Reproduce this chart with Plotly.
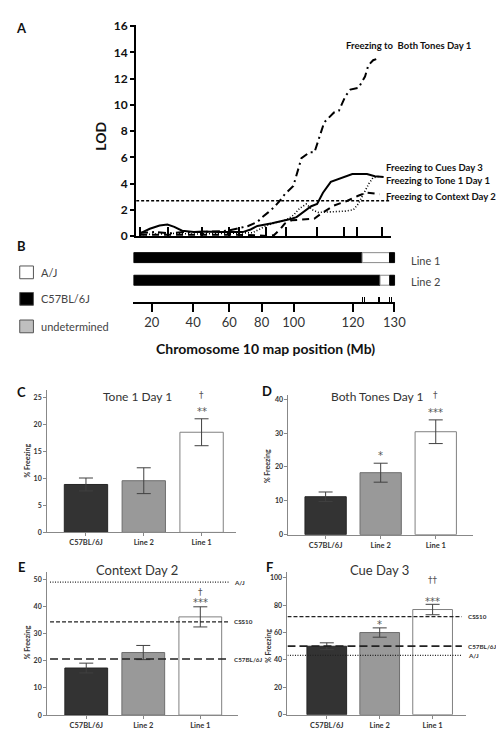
import plotly.graph_objects as go

W, H = 504, 737
FONT = "Lato"
SYMFONT = "DejaVu Sans"

def fx(p):
    return p / W

def fy(p):
    return 1 - p / H

# ---------------- Panel A : LOD profiles (map position units, LOD) ----------------
cues_pos = [6, 16, 26, 34, 41, 49, 61, 71, 86, 101, 111, 119, 126, 141, 153, 161, 166, 174, 181, 187, 193, 201, 209, 216, 223, 238, 246, 255]
cues_lod = [0.2, 0.55, 0.8, 0.87, 0.7, 0.4, 0.3, 0.35, 0.3, 0.3, 0.3, 0.5, 0.77, 0.97, 1.15, 1.32, 1.44, 1.9, 2.27, 2.44, 3.3, 4.13, 4.35, 4.56, 4.73, 4.73, 4.55, 4.5]

both_pos = [6, 21, 36, 51, 66, 81, 96, 106, 116, 126, 131, 137, 143, 149, 154, 162.7, 171, 179.3, 184.3, 194.3, 204.3, 209.3, 216, 221, 229.3, 236, 239.3, 244.3, 249.3]
both_lod = [0.25, 0.3, 0.2, 0.3, 0.3, 0.35, 0.4, 0.58, 0.75, 1.07, 1.44, 1.8, 2.19, 2.7, 3.19, 3.81, 5.93, 6.38, 6.38, 8.67, 9.42, 9.55, 10.67, 11.16, 11.29, 12.16, 13.0, 13.4, 13.53]

tone1_pos = [6, 21, 41, 61, 81, 101, 121, 129, 136, 146, 156, 163, 169, 176, 182, 188, 196, 204, 216, 224, 229, 233, 236, 240, 244, 251]
tone1_lod = [0.1, 0.15, 0.2, 0.15, 0.2, 0.2, 0.25, 0.55, 0.82, 1.05, 1.25, 1.6, 2.1, 2.44, 2.0, 1.8, 1.8, 1.85, 1.9, 2.0, 2.44, 3.0, 3.44, 4.0, 4.43, 4.56]

context_pos = [6, 31, 56, 81, 106, 126, 136, 143, 149, 154, 161, 171, 184, 191, 204, 218, 229, 238, 246, 251]
context_lod = [0.1, 0.1, 0.15, 0.1, 0.1, 0.05, 0.0, 0.07, 0.5, 0.95, 1.2, 1.25, 1.32, 1.7, 2.32, 2.69, 3.07, 3.31, 3.25, 3.19]

lod_threshold = 2.69
threshold_span = [2, 261]
marker_pos = [6, 35, 69, 97, 107, 135, 155, 187, 214, 228, 253]

# ---------------- Panel B : congenic segments ----------------
b_tick_pos = [18.7, 61, 98, 131, 163.7, 224.3, 266.7]
b_tick_text = ["20", "40", "60", "80", "100", "120", "130"]
b_marker_pos = [233.7, 236, 250, 252, 261.7, 263.7]
seg_line = [0, 0, 0, 1, 1, 1]
seg_start = [0, 233.7, 261.7, 0, 252, 262]
seg_end = [233.7, 261.7, 267, 252, 262, 267]
seg_strain = ["C57BL/6J", "A/J", "C57BL/6J", "C57BL/6J", "A/J", "C57BL/6J"]
line_names = ["Line 1", "Line 2"]

# ---------------- Panels C-F : % freezing ----------------
groups = ["C57BL/6J", "Line 2", "Line 1"]
tone1_mean = [8.9, 9.6, 18.6]
tone1_sem = [1.2, 2.4, 2.5]
both_mean = [11.2, 18.3, 30.4]
both_sem = [1.4, 2.8, 3.5]
context_mean = [17.3, 23.0, 36.1]
context_sem = [1.8, 2.6, 3.7]
cue_mean = [50.0, 60.0, 76.8]
cue_sem = [2.5, 3.4, 3.8]

tone1_stars = ["", "", "**"]
tone1_dagger = ["", "", "†"]
both_stars = ["", "*", "***"]
both_dagger = ["", "", "†"]
context_stars = ["", "", "***"]
context_dagger = ["", "", "†"]
cue_stars = ["", "*", "***"]
cue_dagger = ["", "", "††"]

ref_names = ["A/J", "CSS10", "C57BL/6J"]
context_ref = [48.9, 34.3, 20.6]
cue_ref = [43.4, 71.6, 50.1]

bar_fill = ["#333333", "#999999", "#ffffff"]
bar_edge = ["#262626", "#6e6e6e", "#808080"]
strain_fill = {"C57BL/6J": "#000000", "A/J": "#ffffff"}
strain_edge = {"C57BL/6J": "#000000", "A/J": "#8a8a8a"}

fig = go.Figure()
annotations = []
shapes = []

def ann(text, x, y, size, bold=False, xanchor="center", yanchor="middle",
        color="#222222", angle=0, xref="paper", yref="paper", family=FONT):
    if xref == "paper":
        x = fx(x)
    if yref == "paper":
        y = fy(y)
    annotations.append(dict(
        text=text, x=x, y=y, xref=xref, yref=yref, showarrow=False,
        xanchor=xanchor, yanchor=yanchor, textangle=angle,
        font=dict(family=family, size=size, color=color,
                  weight="bold" if bold else "normal")))

# ---- Panel A traces
def lod_trace(xs, ys, dash, width):
    fig.add_trace(go.Scatter(x=xs, y=ys, mode="lines", xaxis="x", yaxis="y",
                             line=dict(color="black", width=width, dash=dash),
                             showlegend=False, hoverinfo="skip"))

fig.add_trace(go.Scatter(x=threshold_span, y=[lod_threshold, lod_threshold], mode="lines",
                         xaxis="x", yaxis="y", line=dict(color="black", width=1.3, dash="3px,2px"),
                         showlegend=False, hoverinfo="skip"))
lod_trace(context_pos, context_lod, "7px,5px", 2)
lod_trace(tone1_pos, tone1_lod, "1px,2px", 1.6)
lod_trace(both_pos, both_lod, "8px,4px,2px,4px", 2)
lod_trace(cues_pos, cues_lod, "solid", 2)

# ---- Panel B traces
fig.add_trace(go.Bar(
    y=seg_line, x=[e - s for s, e in zip(seg_start, seg_end)], base=seg_start,
    orientation="h", xaxis="x2", yaxis="y2", width=0.44,
    marker=dict(color=[strain_fill[s] for s in seg_strain],
                line=dict(color=[strain_edge[s] for s in seg_strain], width=1)),
    showlegend=False, hoverinfo="skip"))
fig.add_trace(go.Scatter(x=[0], y=[0], xaxis="x3", yaxis="y2", mode="markers",
                         marker=dict(opacity=0), showlegend=False, hoverinfo="skip"))

# ---- Panels C-F
panels = [
    dict(ax="4", mean=tone1_mean, sem=tone1_sem, stars=tone1_stars, dag=tone1_dagger,
         xd=(40, 233), xr=(-0.672, 2.594), yd=(527.7, 383), yr=(0, 26.4), dt=5,
         title="Tone 1 Day 1", tx=132, ty=389, tsize=12, letter="C", lx=14, ly=385,
         ylab=(19, 455), so=(7, 24), pu=5.48, refs=None),
    dict(ax="5", mean=both_mean, sem=both_sem, stars=both_stars, dag=both_dagger,
         xd=(286.7, 475), xr=(-0.675, 2.67), yd=(530, 388), yr=(0, 41.2), dt=10,
         title="Both Tones Day 1", tx=378, ty=389, tsize=12, letter="D", lx=265, ly=384,
         ylab=(265, 460), so=(8, 25), pu=3.45, refs=None),
    dict(ax="6", mean=context_mean, sem=context_sem, stars=context_stars, dag=context_dagger,
         xd=(40, 235), xr=(-0.686, 2.659), yd=(713.7, 568), yr=(0, 52.6), dt=10,
         title="Context Day 2", tx=132, ty=566, tsize=13, letter="E", lx=14, ly=563,
         ylab=(19, 640), so=(4, 15), pu=2.77, refs=context_ref, rx=(-0.635, 2.516), lpx=229.5),
    dict(ax="7", mean=cue_mean, sem=cue_sem, stars=cue_stars, dag=cue_dagger,
         xd=(285.7, 468), xr=(-0.743, 2.627), yd=(713.3, 568.3), yr=(0, 104), dt=20,
         title="Cue Day 3", tx=380, ty=566, tsize=13, letter="F", lx=267, ly=563,
         ylab=(265, 643), so=(3, 25), pu=1.395, refs=cue_ref, rx=(-0.743, 2.553), lpx=468.5),
]

ref_dash = {"A/J": "1px,1.5px", "CSS10": "4px,2px", "C57BL/6J": "8px,4px"}
ref_width = {"A/J": 1.3, "CSS10": 1.2, "C57BL/6J": 1.6}

layout_axes = {}
for p in panels:
    a = p["ax"]
    xs = list(range(len(groups)))
    fig.add_trace(go.Bar(
        x=xs, y=p["mean"], xaxis="x" + a, yaxis="y" + a, width=0.75,
        marker=dict(color=bar_fill, line=dict(color=bar_edge, width=1)),
        error_y=dict(type="data", array=p["sem"], visible=True, color="#404040",
                     thickness=1, width=7),
        showlegend=False, hoverinfo="skip"))
    y0px, y1px = p["yd"]
    r0, r1 = p["yr"]
    if p["refs"] is not None:
        for name, val in zip(ref_names, p["refs"]):
            fig.add_trace(go.Scatter(
                x=list(p["rx"]), y=[val, val], mode="lines", xaxis="x" + a, yaxis="y" + a,
                line=dict(color="#222222", width=ref_width[name], dash=ref_dash[name]),
                showlegend=False, hoverinfo="skip"))
            ypx = y0px - (val - r0) / (r1 - r0) * (y0px - y1px)
            ann(name, p["lpx"], ypx, 6.3, bold=True, xanchor="left", color="#333333")
    for i in xs:
        top = p["mean"][i] + p["sem"][i]
        if p["stars"][i]:
            ann(p["stars"][i], i, top + p["so"][0] / p["pu"], 10, xref="x" + a, yref="y" + a,
                color="#555555", yanchor="middle", family=SYMFONT)
        if p["dag"][i]:
            ann(p["dag"][i], i, top + p["so"][1] / p["pu"], 9, xref="x" + a, yref="y" + a,
                color="#555555", family=SYMFONT)
    layout_axes["xaxis" + a] = dict(
        domain=[fx(p["xd"][0]), fx(p["xd"][1])], range=list(p["xr"]), anchor="y" + a,
        tickvals=xs, ticktext=groups, ticks="outside", ticklen=3, tickcolor="#888888",
        showline=True, linecolor="#888888", linewidth=1, showgrid=False, zeroline=False,
        tickfont=dict(family=FONT, size=7.5, color="#333333", weight="bold"))
    layout_axes["yaxis" + a] = dict(
        domain=[fy(p["yd"][0]), fy(p["yd"][1])], range=list(p["yr"]), anchor="x" + a,
        dtick=p["dt"], tick0=0, ticks="outside", ticklen=3, tickcolor="#888888",
        showline=True, linecolor="#888888", linewidth=1, showgrid=False, zeroline=False,
        tickfont=dict(family=FONT, size=7, color="#333333", weight="bold"))
    ann(p["title"], p["tx"], p["ty"], p["tsize"], color="#333333")
    ann(p["letter"], p["lx"], p["ly"], 13, bold=True, color="#111111")
    ann("% Freezing", p["ylab"][0], p["ylab"][1], 7, bold=True, angle=-90, color="#333333")

# ---- Panel A / B text
ann("A", 14, 14, 13, bold=True, color="#111111")
ann("B", 14, 236, 13, bold=True, color="#111111")
ann("LOD", 95, 124, 14, bold=True, angle=-90, color="#111111")
ann("Freezing to  Both Tones Day 1", 343, 32, 9.5, bold=True, xanchor="left", color="#111111")
ann("Freezing to Cues Day 3", 384, 156, 9.5, bold=True, xanchor="left", color="#111111")
ann("Freezing to Tone 1 Day 1", 384, 169.5, 9.5, bold=True, xanchor="left", color="#111111")
ann("Freezing to Context Day 2", 384, 185.5, 9.5, bold=True, xanchor="left", color="#111111")
ann("Chromosome 10 map position (Mb)", 263, 340, 14, bold=True, color="#111111")
for name, yy in zip(line_names, [251, 272]):
    ann(name, 410, yy, 11, xanchor="left", color="#444444")

legend_items = [("A/J", "#ffffff", 263), ("C57BL/6J", "#000000", 290), ("undetermined", "#bfbfbf", 318)]
for label, col, yy in legend_items:
    shapes.append(dict(type="rect", xref="paper", yref="paper",
                       x0=fx(12), x1=fx(26), y0=fy(yy + 6.5), y1=fy(yy - 6.5),
                       fillcolor=col, line=dict(color="#555555", width=1)))
    ann(label, 32, yy, 11, xanchor="left", color="#444444")

fig.update_layout(
    width=W, height=H, margin=dict(l=0, r=0, t=0, b=0),
    paper_bgcolor="white", plot_bgcolor="rgba(0,0,0,0)",
    barmode="overlay", showlegend=False,
    font=dict(family=FONT, color="#222222"),
    xaxis=dict(domain=[fx(131), fx(392)], range=[2, 263], anchor="y",
               showline=True, linecolor="black", linewidth=2,
               ticks="inside", tickvals=marker_pos, ticklen=9, tickwidth=1.5, tickcolor="black",
               showticklabels=False, showgrid=False, zeroline=False),
    yaxis=dict(domain=[fy(226), fy(11)], range=[0, 16.1], anchor="x", dtick=2, tick0=0,
               showline=True, linecolor="black", linewidth=2, ticks="outside", ticklen=4,
               tickwidth=1.5, tickcolor="black", showgrid=False, zeroline=False,
               tickfont=dict(family=FONT, size=12, color="#111111", weight="bold")),
    xaxis2=dict(domain=[fx(128.3), fx(396)], range=[0, 267.7], anchor="y2",
                showline=True, linecolor="black", linewidth=1.5,
                ticks="outside", tickvals=b_tick_pos, ticktext=b_tick_text, ticklen=8,
                tickwidth=1.5, tickcolor="black", showgrid=False, zeroline=False,
                tickfont=dict(family=FONT, size=13, color="#333333")),
    xaxis3=dict(domain=[fx(128.3), fx(396)], range=[0, 267.7], anchor="y2", overlaying="x2",
                showline=False, ticks="inside", tickvals=b_marker_pos, ticklen=5,
                tickwidth=1, tickcolor="black", showticklabels=False,
                showgrid=False, zeroline=False),
    yaxis2=dict(domain=[fy(293), fy(236.5)], range=[1.956, -0.5], anchor="x2",
                visible=False, showgrid=False, zeroline=False),
    annotations=annotations, shapes=shapes,
    **layout_axes,
)

fig.write_html("out.html")
